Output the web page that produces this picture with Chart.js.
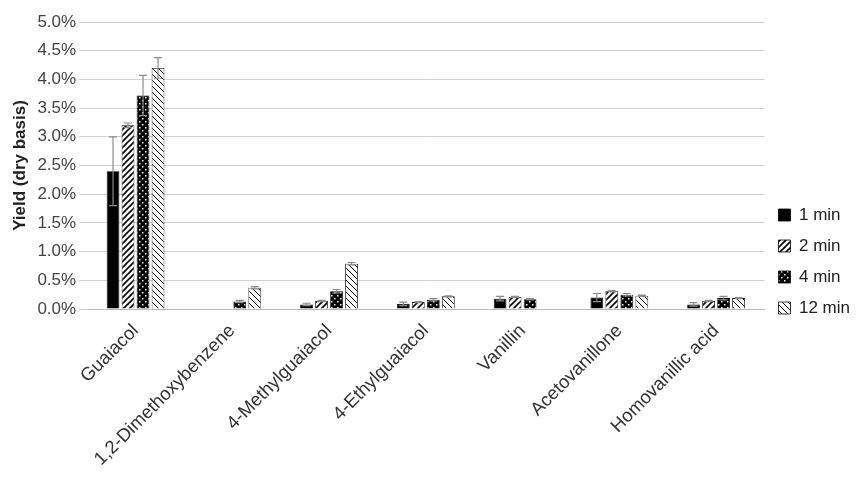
<!DOCTYPE html>
<html><head><meta charset="utf-8">
<script src="https://cdn.jsdelivr.net/npm/chart.js@4"></script>
<style>body{margin:0;background:#fff}#wrap{width:864px;height:501px}</style>
</head><body><div id="wrap"><canvas id="c"></canvas></div>
<script>
var categories = ['Guaiacol','1,2-Dimethoxybenzene','4-Methylguaiacol','4-Ethylguaiacol','Vanillin','Acetovanillone','Homovanillic acid'];
var seriesNames = ['1 min','2 min','4 min','12 min'];
var min1 = [2.40, 0, 0.08, 0.09, 0.18, 0.20, 0.08];
var min2 = [3.20, 0, 0.14, 0.12, 0.21, 0.31, 0.14];
var min4 = [3.72, 0.13, 0.31, 0.16, 0.17, 0.25, 0.19];
var min12 = [4.20, 0.37, 0.79, 0.22, 0, 0.23, 0.19];
var err1 = [0.60, 0, 0.02, 0.03, 0.04, 0.07, 0.03];
var err2 = [0.04, 0, 0.01, 0.01, 0.01, 0.01, 0.01];
var err4 = [0.35, 0.02, 0.03, 0.02, 0.01, 0.02, 0.03];
var err12 = [0.18, 0.02, 0.02, 0.01, 0, 0.01, 0.01];

function pat(kind){
  var p = document.createElement('canvas'); p.width = 6; p.height = 6;
  var g = p.getContext('2d');
  g.fillStyle = '#fff'; g.fillRect(0,0,6,6);
  g.strokeStyle = '#000'; g.fillStyle = '#000';
  if (kind == 'solid') { g.fillRect(0,0,6,6); }
  else if (kind == 'fwd') { g.lineWidth = 1.6; g.beginPath(); g.moveTo(0,6); g.lineTo(6,0); g.moveTo(-3,3); g.lineTo(3,-3); g.moveTo(3,9); g.lineTo(9,3); g.stroke(); }
  else if (kind == 'dots') { g.fillRect(0,0,6,6); g.fillStyle = '#fff'; g.fillRect(1,1,1.5,1.5); g.fillRect(4,4,1.5,1.5); }
  else { g.lineWidth = 1; g.beginPath(); g.moveTo(0,0); g.lineTo(6,6); g.moveTo(-3,3); g.lineTo(3,9); g.moveTo(3,-3); g.lineTo(9,3); g.stroke(); }
  return document.createElement('canvas').getContext('2d').createPattern(p,'repeat');
}
var kinds = ['solid','fwd','dots','back'];
var vals = [min1,min2,min4,min12];
var errs = [err1,err2,err4,err12];

var errorBars = {
  id: 'errorBars',
  afterDatasetsDraw: function(chart){
    var ctx = chart.ctx, y = chart.scales.y;
    ctx.save(); ctx.strokeStyle = '#8c8c8c'; ctx.lineWidth = 1.2;
    chart.data.datasets.forEach(function(ds, i){
      chart.getDatasetMeta(i).data.forEach(function(bar, j){
        var e = errs[i][j], v = ds.data[j];
        if (!e || !v) return;
        var t = y.getPixelForValue(v + e), b = y.getPixelForValue(v - e);
        ctx.beginPath();
        ctx.moveTo(bar.x, t); ctx.lineTo(bar.x, b);
        ctx.moveTo(bar.x-4, t); ctx.lineTo(bar.x+4, t);
        ctx.moveTo(bar.x-4, b); ctx.lineTo(bar.x+4, b);
        ctx.stroke();
      });
    });
    ctx.restore();
  }
};

new Chart(document.getElementById('c'), {
  type: 'bar',
  data: {
    labels: categories,
    datasets: seriesNames.map(function(n, i){
      return { label: n, data: vals[i], backgroundColor: pat(kinds[i]), borderColor: '#000', borderWidth: 0.8,
        categoryPercentage: 0.62, barPercentage: 0.85 };
    })
  },
  options: {
    responsive: true, maintainAspectRatio: false, animation: false,
    layout: { padding: { top: 22, right: 4, left: 6, bottom: 0 } },
    plugins: {
      legend: { position: 'right', labels: { font: { family: 'Liberation Sans', size: 17 }, color: '#222', boxWidth: 12, boxHeight: 12, padding: 14 } },
      tooltip: { enabled: false }
    },
    scales: {
      x: { grid: { display: false }, border: { color: '#bbb' },
        afterFit: function(s){ s.height = 192; },
        ticks: { maxRotation: 45, minRotation: 45, color: '#333', font: { family: 'Liberation Sans', size: 18.5 } } },
      y: { min: 0, max: 5, border: { display: false }, grid: { color: '#d0d0d0' },
        title: { display: true, text: 'Yield (dry basis)', color: '#222', font: { family: 'Liberation Sans', size: 17, weight: 'bold' } },
        ticks: { stepSize: 0.5, color: '#444', font: { family: 'Liberation Sans', size: 17 }, callback: function(v){ return v.toFixed(1) + '%'; } } }
    }
  },
  plugins: [errorBars]
});
</script></body></html>
